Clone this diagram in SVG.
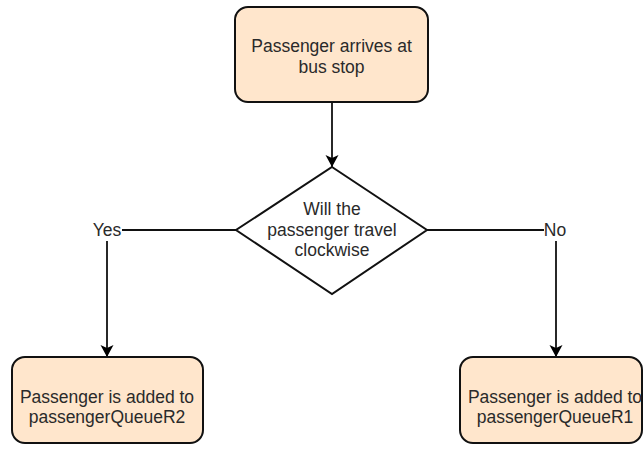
<svg xmlns="http://www.w3.org/2000/svg" width="643" height="455" viewBox="0 0 643 455">
<style>
.box{fill:#ffe6cc;stroke:#111;stroke-width:2}
.dia{fill:#fff;stroke:#111;stroke-width:2}
.t{font-family:"Liberation Sans",Arial,sans-serif;font-size:17.5px;fill:#2a2a2a;text-anchor:middle}
.c{fill:none;stroke:#111;stroke-width:1.8}
</style>
<defs>
<marker id="ah" markerWidth="12" markerHeight="14" refX="12" refY="7" orient="auto" markerUnits="userSpaceOnUse">
<path d="M0,0.5 L12,7 L0,13.5 L3,7 Z" fill="#000"/>
</marker>
</defs>
<rect width="643" height="455" fill="#fff"/>
<g id="connectors">
<path class="c" d="M332,102 V167" marker-end="url(#ah)"/>
<path class="c" d="M236,230 H122"/>
<path class="c" d="M107,241 V357" marker-end="url(#ah)"/>
<path class="c" d="M427,230 H544"/>
<path class="c" d="M556,241 V357" marker-end="url(#ah)"/>
<text class="t" x="107" y="236">Yes</text>
<text class="t" x="555" y="236">No</text>
</g>
<g id="start">
<rect class="box" x="235" y="7" width="193" height="95" rx="13"/>
<text class="t" x="331.5" y="52">Passenger arrives at</text>
<text class="t" x="331.5" y="73">bus stop</text>
</g>
<g id="decision">
<polygon class="dia" points="332,167 427,230 332,294 236,230"/>
<text class="t" x="332" y="215">Will the</text>
<text class="t" x="332" y="236">passenger travel</text>
<text class="t" x="332" y="256">clockwise</text>
</g>
<g id="queueR2">
<rect class="box" x="12" y="357" width="191" height="86" rx="13"/>
<text class="t" x="107" y="403">Passenger is added to</text>
<text class="t" x="107" y="423">passengerQueueR2</text>
</g>
<g id="queueR1">
<rect class="box" x="460" y="357" width="182" height="86" rx="13"/>
<text class="t" x="555" y="403">Passenger is added to</text>
<text class="t" x="555" y="423">passengerQueueR1</text>
</g>
</svg>
